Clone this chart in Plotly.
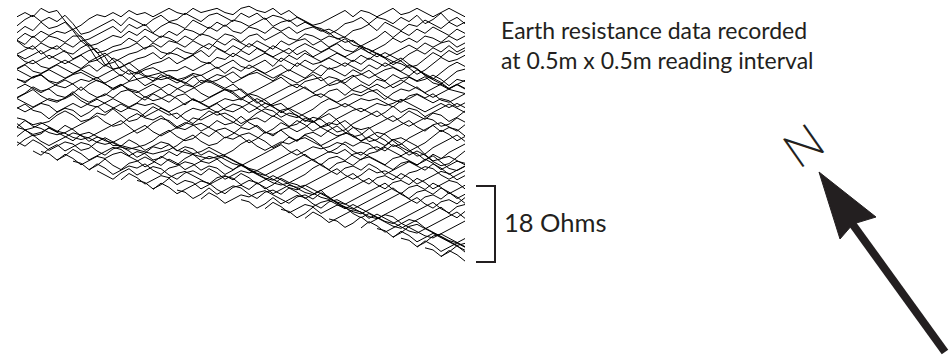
import plotly.graph_objects as go

# Earth resistance traverses, plotted as a stacked trace plot.
# Each row is one traverse; values are ohms relative to the survey mean,
# one reading per sample position along the traverse.
SAMPLE_STEP_M = 0.5
TRACE_OFFSET = 1.14      # ohms of vertical offset between successive traverses
SCALE_BAR_OHMS = 18

trace_start = [0, 0, 0, 0, 0, 0, 0, 0, 0, 0, 0, 0, 0, 0, 0, 0, 0, 0, 0, 0,
               0, 0, 0, 0, 0, 0, 0, 2, 3, 5, 7, 9, 10, 13, 15, 17, 20, 23,
               28, 31, 33, 36, 39, 43, 45, 47, 48, 50, 51, 53]

readings = [
    [1, 2, 1, 3, 2, 2.5, 0, -2, -1, 0.5, 1.5, 1, 2, 1, 2.5, 1.5, 2, 1, 2, 3, 2, 1.5, 3, 2, 2.5, 3, 2, 1.5, 3, 3.5, 2.5, 2, 3, 1.5, 2.5, 1, 0, -1, -0.5, 0.5, 1.5, 2.5, 1, 2.5, 2, 1, 2, 3, 1.5, 2, 3, 2, 1, 2, 3, 2, 1],
    [0, 1.5, 2.5, 1, 2, 1, 2.5, 0.5, -2, -1.5, -0.5, 0.5, 1.5, 0, 2, 1, 0, 1.5, 2.5, 1, 1.5, 3, 2, 1, 2.5, 3, 2, 1, 3, 2, 3, 1.5, 2.5, 2, 1, 2, 1, 0, -1, -2, -1, 0.5, 1, 2, 0.5, 2, 1.5, 0.5, 2, 1, 2.5, 0.5, 1.5, 3, 1, 2, 0.5],
    [-0.5, 1, 0, 2, 0.5, 1, 2, 0, -2.5, -2, -1, 0, 1, -0.5, 1.5, 0.5, 1.5, -0.5, 1, 2, 1.5, 0.5, 2.5, 1.5, 0.5, 2, 1, 2.5, 2, 1, 2, 3, 1, 2, 2.5, 1, 2, 1, 0.5, -0.5, -2, -1.5, 0, 0.5, 1.5, 0, 2, 1, 0, 1.5, 1, 2.5, 1.5, 0.5, 2, 1, 2],
    [-1, 0.5, -0.5, 1, 0, 1, 0.5, 1.5, -0.5, -2.5, -2, -1, 0, -0.5, 1, 0, 1.5, 0.5, -0.5, 1, 0, 1.5, 1, 0, 2, 1, 2.5, 1, 0.5, 2, 1.5, 0.5, 2, 1, 2, 0.5, 1.5, 2, 1, 1.5, 0.5, -0.5, -1.5, -2.5, -1.5, -0.5, 1, -0.5, 1, 0, 1.5, 0.5, 2, 1, 0, 1.5, 0.5],
    [0, -1, 1, -0.5, 1, 0.5, -0.5, 1, 1, -1, -3, -2.5, -1.5, -1, 0.5, -0.5, 1, -0.5, 1, 0.5, -0.5, 1, 0, 1.5, 1, 0, 1.5, 1, -0.5, 1, 1.5, 0, 1, 2, 0.5, 0, 1.5, 1, 0, 1, 0.5, -0.5, 0, -1.5, -3, -2, -1, 0.5, -0.5, 0.5, -0.5, 1, 0.5, -0.5, 1, 0, 1],
    [1, -0.5, -1, 0.5, -0.5, -1, 0.5, -0.5, 1, -0.5, -3.5, -2.5, -1.5, -1, -0.5, 0.5, -1, 0.5, -0.5, 1, 0.5, -0.5, 1, 0, -1, 1, 0, 1.5, 0.5, -0.5, 1, 0, -1, 1, 0, 1, 1.5, 0, 1, -0.5, 0.5, 1.5, 0, -0.5, -1, -2, -3, -2, -1, 0, -1, 0.5, -0.5, 0.5, 1, -0.5, 0.5],
    [-1, 0, 1, -1, 0, 1, -0.5, -1, 0.5, 1.5, -0.5, -3.5, -3, -2, -1, -0.5, 0.5, 1, -0.5, -1, 0.5, -0.5, -1, 0.5, 1.5, 0.5, -0.5, 1, 0, 1.5, 0.5, -0.5, 1, 0, -1, 0.5, 1.5, 0.5, -0.5, 0.5, 1.5, 0, -0.5, 1, 0, -1, -2, -3.5, -2.5, -1, 0, -1, 0.5, -0.5, 1, -0.5, 0.5],
    [0, -1, 0, 1, -1, 0, 1, -1, 0, 1, 1.5, -0.5, -3.5, -3, -2, -1, -0.5, 0.5, -1, 0.5, 0, -1, 0, 1, -0.5, 1.5, 0.5, -0.5, 1, 0, 1.5, 0.5, -0.5, 0.5, 1.5, 0, 1, -0.5, 0.5, 1.5, 0.5, -0.5, 0.5, 1.5, 0.5, -0.5, 0.5, -0.5, -1.5, -3, -2.5, -1, 0.5, -0.5, 1, 0, 1],
    [1, -0.5, -1, 0, 1, 0, -1, 0, 1, -0.5, 0.5, 1.5, 0, -2.5, -3.5, -3, -2, -1, -0.5, 0.5, -1, 0, 1, -0.5, -1, 0.5, 0, 1.5, 0.5, -0.5, 0.5, 1.5, 0.5, -0.5, 1, 0, 1.5, 0.5, -0.5, 0.5, 1.5, 0.5, -0.5, 1, 0, 1.5, 0.5, -0.5, -1, -2, -3.5, -2.5, -1, 0.5, -0.5, 0, 1],
    [-1, 0, 1, -0.5, -1, 0, 1, 0, -1, 0.5, 1, -0.5, 1.5, 0.5, -1.5, -3.5, -3, -2.5, -2, -1.5, -1.5, -0.5, -1.5, -0.5, 0.5, -1, 0, 1, -0.5, -1, 0, 1, -0.5, 1.5, 0.5, -0.5, 1, 0, 0.5, 1.5, 0.5, -0.5, 1, 0, 1.5, 0.5, -0.5, 0.5, 1.5, 0, -1, -2.5, -3.5, -2, -0.5, 0.5, -0.5],
    [0, 1, -0.5, -1, 0, 1, 0, -1, 0, 1, -0.5, 1, 0, 0.5, 1.5, 0, -1.5, -2, -2.5, -2, -2.5, -2, -1, -1.5, -0.5, 0.5, -1, 0.5, -0.5, 1, 0, -1, 0, 1, -0.5, 1.5, 0.5, -0.5, 1, 0, 0.5, 1.5, 0.5, -0.5, 1, 0, 1.5, 0.5, -0.5, 1, 0, -1.5, -2.5, -3.5, -2, -0.5, 0],
    [1, 0, -1, 0, 1, 0, -1, 0, 1, 0, -1, 0, 1, -0.5, 1, 0, 1, 1.5, 0.5, -0.5, -1.5, -2, -3, -1.5, -2, -1.5, -0.5, 0.5, -1, 0, 1, 0, -1, 0, 1, 0, -1, 0.5, -0.5, 1.5, 0.5, -0.5, 1, 0, -1, 0, 1, 1.5, 0.5, -0.5, 1, 0, -1, -2, -3.5, -2.5, -1.5],
    [0, -1, 0.5, 1, -0.5, -1, 0, 1, 1.5, 0.5, -0.5, -1, 0, 1, -0.5, 1.5, 0.5, -0.5, 1, 0, -1, 0, 1, -1, 0, 1, 0.5, -1, 0, 1, 1.5, 0.5, -0.5, 1, 0, -1, 0, 1, -0.5, 0.5, 0, -1, 0.5, 1, 2, 0.5, -0.5, 1, 0, 0.5, -0.5, 0.5, -1, -1.5, -2.5, -3, -3.5],
    [1, 0.5, 1.5, 2, 0.5, -0.5, -1, 0, 1, 0.5, 1.5, 0, -1.5, -0.5, 0.5, 1, -0.5, 0.5, 1.5, 2, 1, 0, 1.5, 2, 0.5, -0.5, -1.5, -2, -3.5, -2.5, -1.5, -0.5, 0.5, 1.5, 0, -1, 0.5, 1, 1.5, -0.5, 0, 1, 2, 0.5, -0.5, 1, 0.5, -1, 0, 1.5, 0.5, 1, 2, 1, -0.5, 1, 0.5],
    [0, 1, 0, -1, 0, 1, 2, 1, -0.5, 1, 2, 1, 0, 1, -0.5, -1, 0, 1, 0, 1, 0, -1, 0, 1, 2, 1, 0, 1, -0.5, -2, -3.5, -2.5, -1.5, -0.5, 0.5, 1, 0, -1, 0, 1, 2, 1, -0.5, -1, 0, 1, 0, 1, 2, 1, 0, -1, 0, 1, 0, 1, 0],
    [-1, 0, 1.5, 0.5, 1, -0.5, -1, 0, 1.5, 0, -1, -0.5, 1, 2, 1, 0.5, -1, 0, 1, -0.5, 1, 2, 1.5, 0, -1, 0, 1, 0.5, 1, -0.5, -2, -3.5, -2.5, -1.5, -0.5, 0.5, 1.5, 0, -1, 0.5, 1, -0.5, 1, 2, 1, 0, -1.5, 0, 1, 0.5, 1.5, 0, -1, 0, 1, 2, 1],
    [0, 1, 2, 0.5, -0.5, -1, 0, 1.5, 0, -1, 0, 1, 0, 1.5, 2, 0.5, -0.5, 1, 0, -1, 0.5, 1, -0.5, -1, 0, 1, 2, 1, -0.5, 1, 0.5, -0.5, -2, -3.5, -2.5, -1.5, -0.5, 0.5, 1, 0, -1, 0, 1, 0.5, 1.5, 2, 0.5, -0.5, -1, 0.5, 1, 0, 1, -0.5, -1, 0, 1],
    [1, 0, -1, 0, 1, 0.5, 1, 2, 0.5, -0.5, -1, 0, 1, 0, -1, 0, 1.5, 0.5, 1, 2, 1, -0.5, 1, 0, -1, 0, 1, 0.5, 1, 0, 1, 0, -1, -2, -3, -3.5, -2.5, -1.5, 0, 1, 0, -1, 0, 1, 0.5, 1, 0, -1, 0.5, 1, 2, 1, 0, 1, 0.5, -1, 0],
    [0, -1, 0, 1, 0.5, -1, 0, 1, 0, 1, 2, 1, 0, -1, 0, 1, 0.5, 1, 0, -1, 0, 1, 2, 1, 0, 1, -0.5, -1, 0, 1, 0, 1, 0.5, 1, -0.5, -2, -3, -3.5, -2, -0.5, 0, 1, 0, -1, 0, 1, 0.5, 1, 2, 1, 0, -1, 0, 1, 0, 1, 0],
    [1, 2, 0.5, 0, -1.5, 0, 1, 0.5, -1, 0, 1.5, 0, 1, 2, 1, 0.5, -1, 0, 1, 0, -1.5, 0, 1, 0.5, 1, 0, 1, 2, 1.5, 0, 1, 0, -1, 0.5, 1, 0, -1, -2, -3.5, -3, -1.5, -0.5, 0.5, 1, 0, -1, 0, 1.5, 0, 1, 0.5, -1, 0, 1, 2, 1, 0],
    [-1.5, -3, -2.5, -1.5, -1, 0.5, 1.5, 0.5, -1, -0.5, 1, 0.5, 2, 0.5, -1, -0.5, 1, 2.5, 1.5, 0.5, 1, -0.5, -1.5, 0, 1.5, 0.5, 1, 0, -1.5, -0.5, 1, 2, 1.5, 0, 1, 0.5, -1, 0, -0.5, -2, -3.5, -3, -1.5, -0.5, 0.5, 1.5, 0, -1, 0, 1.5, 0.5, -0.5, 1, 0.5, -1, 0, 1.5],
    [1, 0.5, -1, -1.5, -2.5, -3, -2.5, -1.5, -0.5, 0.5, 1.5, 0, -1, -0.5, 1, 2, 1, 0.5, 1.5, 0, -1.5, -0.5, 1, 0.5, 1.5, 2.5, 1, 0, -1, 0.5, 1, 0, 1.5, 0.5, -1, -0.5, 1, 0, 1, 2, 0.5, -1.5, -3.5, -3, -1.5, -0.5, 0.5, 1.5, 0, -1, 0, 1, 0.5, -1, -0.5, 1, 0],
    [0, 1.5, 0.5, 1, 0, -1, -1.5, -2.5, -3, -2.5, -1.5, -0.5, 0.5, 1.5, 0, -1.5, -0.5, 1, 2, 1.5, 0, 1, 0.5, -1, 0, 1.5, 0.5, 1, 2.5, 1, 0, -1.5, -0.5, 1, 0, 1.5, 0.5, -1, 0, 1, 0.5, 1.5, 0, -1.5, -3.5, -3, -1.5, -0.5, 0.5, 1.5, 0, -1, 0.5, 1, 0, -1, 0.5],
    [1, 0.5, -1, -0.5, 1, 0, 1.5, 0.5, -1, -1.5, -2.5, -3, -2.5, -1.5, -0.5, 0.5, 1.5, 0, -1, 0, 1, 0.5, 1.5, 2, 1, 0, -1.5, -0.5, 1, 0.5, 1.5, 0, -1, 0.5, 1, 0, 1, 2.5, 1, 0, -1, -0.5, 1, 0.5, 1, -1, -2, -3.5, -3, -1.5, -0.5, 0.5, 1.5, 0, 1, 0.5, -1],
    [0, 1.5, 0.5, 1, 2, 1, 0, -1, 0.5, 1, 0, -1, -1.5, -2.5, -3, -2.5, -2, -1, 0.5, 1.5, 0, -1, -0.5, 1, 0, 1.5, 2, 1, 0, -1.5, -0.5, 1, 0.5, 1.5, 0, -1, 0.5, 1, 0, 1.5, 2.5, 1, 0, -1, 0, 1, 0.5, -1, -2.5, -3.5, -2.5, -1.5, 0, 1.5, 0.5, -1, 0],
    [-1, 0.5, 1.5, 0, -1, 0, 1, 2, 1.5, 0, 1, 0.5, -1, -1, -1.5, -2, -2.5, -3, -2.5, -2, -1, 0.5, 1.5, 0, -1, -0.5, 1, 0.5, 1.5, 2, 1, 0, -1.5, -0.5, 1, 0, 1.5, 0.5, -1, 0, 1, 2, 1.5, 0, 1, 0, -1, 0.5, -0.5, -2, -3.5, -3, -1.5, -0.5, 0.5, 1.5, 0],
    [1, 0, 1.5, 0.5, -1, 0, 1, 0.5, -1, -0.5, 1, 2, 1, 0, 1.5, 0.5, -1, 0, 1, 0.5, -1, -1.5, -2, -2.5, -3, -2.5, -2, -1, 0.5, 1.5, 0, -1, 0, 1, 0.5, 1.5, 2, 1, 0, -1.5, -0.5, 1, 0, 1, 0.5, -1, 0, 1.5, 2, 1, 0, -2, -3.5, -3, -1.5, -0.5, 0.5],
    [0, -1, 0.5, 1.5, 0, 1, 2, 1.5, 0, -1, 0.5, 1, 0, -1.5, -0.5, 1, 0.5, 1.5, 0, 1, 0.5, -1, 0, -1, -2, -3, -3.5, -2.5, -1.5, -0.5, 0.5, 1.5, 0, -1, 0, 1, 0.5, 1, 2, 1.5, 0, -1, 0.5, 1, 0, 1.5, 0.5, -1, 0, -1, -2.5, -3.5, -3, -1.5, 0],
    [1, 0.5, -1, 0, 1.5, 0.5, -1, 0, 1, 2, 1.5, 0, 1, 0.5, -1, -0.5, 1, 0, 1.5, 0.5, 1, 2, 1, 0, -1, -2, -3, -3.5, -2.5, -1.5, -0.5, 0.5, 1.5, 0, -1, 0, 1, 0.5, 1.5, 0, -1, 0.5, 1, 2, 1, 0, 1, 0.5, -1, 0, -1.5, -3, -3.5, -2.5],
    [0, 1.5, 0.5, -1, 0, 1, 0.5, 1.5, 2, 1, 0, -1.5, -0.5, 1, 0, -1, 0.5, 1.5, 0, 1, 0.5, 1, 0, -1, -2, -3, -3.5, -2.5, -1.5, -0.5, 0.5, 1.5, 0, -1, 0.5, 1, 0, 1.5, 2, 1, 0, -1, 0.5, 1, 0, -1, 0, 1.5, 0.5, 1, 0, -1],
    [1, 0.5, -1, 0, 1.5, 0, -1, 0.5, 1, 2, 1, 0, 1.5, 0.5, -1, 0, 1, 0.5, 1.5, 0, -1, 0, -1, -2, -3, -3.5, -2.5, -1.5, -0.5, 0.5, 1.5, 0, -1, 0.5, 1, 0, 1.5, 2, 1, 0, -1, 0.5, 1, 0, 1.5, 0.5, -1, 0, 1, 0.5],
    [0, 1.5, 0.5, -1, 0, 1, 0.5, 1.5, 0, -1, 0.5, 1, 2, 1.5, 0, 1, 0.5, -1, 0, 1.5, 0, -1, -2, -3, -3.5, -3, -2, -1, 0.5, 1.5, 0, -1, 0.5, 1, 0, 1.5, 0.5, -1, 0, 1, 2, 1, 0, 1.5, 0.5, -1, 0, 1],
    [1, 0, -1, 0.5, 1.5, 0, 1, 2, 1.5, 0, -1, 0.5, 1, 0, 1.5, 0.5, -1, 0, 1, 0.5, 1, 0, -1, -2, -3, -3.5, -2.5, -1.5, -0.5, 0.5, 1.5, 0, -1, 0, 1.5, 0.5, 1, 0, -1, 0.5, 1, 2, 1.5, 0, -1, 0, 1],
    [0, 1.5, 0.5, -1, 0, 1, 0.5, 1.5, 2, 1, 0, -1, 0.5, 1, 0, 1.5, 0.5, -1, 0, 1, 0, -1, -2, -3, -3.5, -2.5, -1.5, -0.5, 0.5, 1.5, 0, -1, 0.5, 1, 0, 1.5, 0.5, -1, 0, 1, 2, 1.5, 0, 1],
    [1, 0.5, -1, 0, 1.5, 0, 1, 0.5, -1, 0, 1, 2, 1.5, 0, 1, 0.5, -1, 0, 1.5, 0.5, 0, -1, -2, -3, -3.5, -2.5, -1.5, -0.5, 0.5, 1.5, 0, -1, 0.5, 1, 0, 1.5, 0.5, -1, 0, 1, 0.5, -1],
    [0, 1.5, 0.5, -1, 0, 1, 2, 1.5, 0, -1, 0.5, 1, 0, 1.5, 0.5, -1, 0, 1, 0.5, 1, 0, -1, -2, -3, -3.5, -2.5, -1.5, -0.5, 0.5, 1.5, 0, -1, 0.5, 1, 0, 1.5, 0.5, -1, 0, 1],
    [1, 0.5, -1, 0, 1.5, 0, 1, 2, 1.5, 0, -1, 0.5, 1, 0, 1.5, 0.5, -1, 0, 1, -1, -2, -3, -3.5, -2.5, -1.5, -0.5, 0.5, 1.5, 0, -1, 0.5, 1, 0, 1.5, 0.5, -1, 0],
    [0, 1.5, 0.5, -1, 0, 1, 0.5, 1.5, 2, 1, 0, -1, 0.5, 1, 0, 1.5, 0.5, -1, -2, -3, -3.5, -2.5, -1.5, -0.5, 0.5, 1.5, 0, -1, 0.5, 1, 0, 1.5, 0.5, -1],
    [1, 0.5, -1, 0, 1.5, 0, 1, 2, 1.5, 0, -1, 0.5, 1, 0, -1, -2, -3, -3.5, -2.5, -1.5, -0.5, 0.5, 1.5, 0, -1, 0.5, 1, 0, 1.5],
    [0, 1.5, 0.5, -1, 0, 1, 0.5, 1.5, 2, 1, 0, 1, 0, -1, -2, -3, -3.5, -2.5, -1.5, -0.5, 0.5, 1.5, 0, -1, 0.5, 1],
    [1, 0.5, -1, 0, 1.5, 0, 1, 2, 1.5, 0, -1, 0, -1, -2, -3, -3.5, -2.5, -1.5, -0.5, 0.5, 1.5, 0, -1, 0.5],
    [0, 1.5, 0.5, -1, 0, 1, 2, 1.5, 0, 1, 0, -1, -2, -3, -3.5, -2.5, -1.5, -0.5, 0.5, 1.5, 0],
    [1, 0.5, -1, 0, 1.5, 0, 1, 2, 1.5, 0, -1, -2, -3, -3.5, -2.5, -1.5, -0.5, 0.5],
    [0, 1.5, 0.5, -1, 0, 1, 2, 1.5, 0, -1, -2, -3, -3.5, -2.5],
    [1, 0.5, -1, 0, 1.5, 2, 1, 0, -1, -2, -3, -2.5],
    [0, 1.5, 0.5, -1, 0, 1, 0, -1, -2, -3],
    [1, 0.5, -1, 0, 1.5, 2, 1, 0, -1],
    [0, 1.5, 0.5, -1, 0, 1, 0],
    [1, 0.5, -1, 0, 1.5, 0],
    [0, 1.5, 0.5, -1],
]

W, H = 950, 356
INK = "#231f20"
FONT = "Lato, 'Open Sans', sans-serif"

# pixel geometry of the stacked-trace panel
PX_LEFT, PX_RIGHT = 17, 465
PX_TOP_BASELINE = 21
PX_PER_OHM = 76 / SCALE_BAR_OHMS

n_samples = max(s + len(r) for s, r in zip(trace_start, readings))
length_m = (n_samples - 1) * SAMPLE_STEP_M
px_per_m = (PX_RIGHT - PX_LEFT) / length_m
x_range = [-PX_LEFT / px_per_m, length_m + (W - PX_RIGHT) / px_per_m]
y_range = [-(H - PX_TOP_BASELINE) / PX_PER_OHM, PX_TOP_BASELINE / PX_PER_OHM]

fig = go.Figure()
for k, (start, vals) in enumerate(zip(trace_start, readings)):
    xs = [(start + i) * SAMPLE_STEP_M for i in range(len(vals))]
    ys = [v - k * TRACE_OFFSET for v in vals]
    fig.add_trace(go.Scatter(x=xs, y=ys, mode="lines",
                             line=dict(color="black", width=1),
                             hoverinfo="skip", showlegend=False))


def px(xp):
    return xp / W


def py(yp):
    return 1 - yp / H


# 18 ohm scale bar, drawn in data units on the y axis
bar_top = -(186 - PX_TOP_BASELINE) / PX_PER_OHM
bar_bottom = bar_top - SCALE_BAR_OHMS
fig.add_shape(type="path", xref="paper", yref="y",
              path=f"M {px(476)},{bar_top} L {px(495)},{bar_top} "
                   f"L {px(495)},{bar_bottom} L {px(476)},{bar_bottom}",
              line=dict(color=INK, width=2))

# north arrow: shaft and head
fig.add_shape(type="line", xref="paper", yref="paper",
              x0=px(851), y0=py(222), x1=px(945), y1=py(352),
              line=dict(color=INK, width=8))
fig.add_shape(type="path", xref="paper", yref="paper",
              path=f"M {px(819)},{py(172)} L {px(876)},{py(217)} "
                   f"L {px(853)},{py(224)} L {px(840)},{py(239)} Z",
              fillcolor=INK, line=dict(color=INK, width=1))

# survey description (two lines in one block) and scale bar label
fig.add_annotation(xref="paper", yref="paper", xanchor="left",
                   yanchor="middle", align="left", showarrow=False,
                   font=dict(family=FONT, color=INK, size=23),
                   text="Earth resistance data recorded<br>"
                        "at 0.5m x 0.5m reading interval",
                   x=px(499), y=py(45))
fig.add_annotation(xref="paper", yref="paper", xanchor="left",
                   yanchor="middle", showarrow=False,
                   font=dict(family=FONT, color=INK, size=25.5),
                   text=f"{SCALE_BAR_OHMS} Ohms", x=px(502), y=py(222))

fig.add_annotation(xref="paper", yref="paper", x=px(803), y=py(145),
                   xanchor="center", yanchor="middle",
                   text="N", textangle=-35, showarrow=False,
                   font=dict(family=FONT, color=INK, size=48, weight=300))

fig.update_layout(
    width=W, height=H,
    margin=dict(l=0, r=0, t=0, b=0),
    paper_bgcolor="white", plot_bgcolor="white",
    xaxis=dict(range=x_range, visible=False, domain=[0, 1]),
    yaxis=dict(range=y_range, visible=False, domain=[0, 1]),
)

fig.write_html("out.html")
